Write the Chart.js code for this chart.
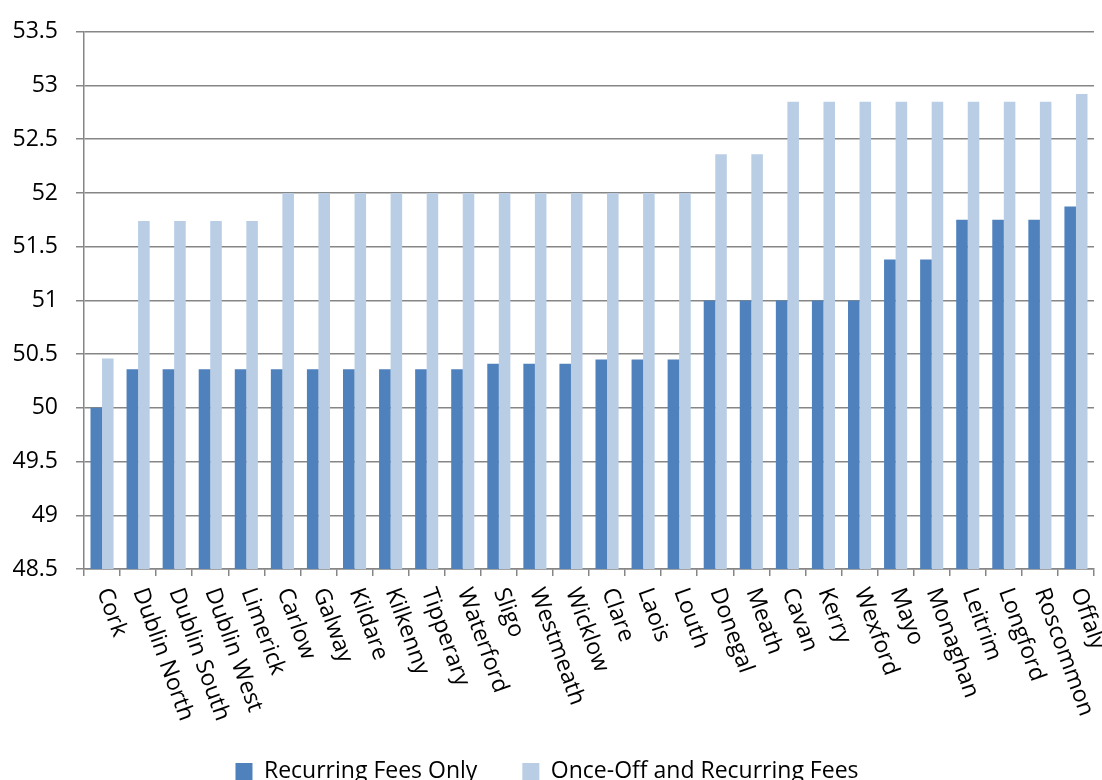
<!DOCTYPE html>
<html>
<head>
<meta charset="utf-8">
<script src="https://cdn.jsdelivr.net/npm/chart.js@4"></script>
<style>
  html, body { margin: 0; padding: 0; background: #fff; overflow: hidden; }
  #wrap { width: 1102px; height: 793px; position: relative; }
</style>
</head>
<body>
<div id="wrap"><canvas id="feeChart"></canvas></div>
<script>
var counties = ['Cork', 'Dublin North', 'Dublin South', 'Dublin West', 'Limerick', 'Carlow',
    'Galway', 'Kildare', 'Kilkenny', 'Tipperary', 'Waterford', 'Sligo', 'Westmeath', 'Wicklow',
    'Clare', 'Laois', 'Louth', 'Donegal', 'Meath', 'Cavan', 'Kerry', 'Wexford', 'Mayo',
    'Monaghan', 'Leitrim', 'Longford', 'Roscommon', 'Offaly'];

var recurringOnly = [50.0, 50.36, 50.36, 50.36, 50.36, 50.36, 50.36, 50.36, 50.36, 50.36,
    50.36, 50.41, 50.41, 50.41, 50.45, 50.45, 50.45, 51.0, 51.0, 51.0, 51.0, 51.0, 51.38,
    51.38, 51.75, 51.75, 51.75, 51.875];

var onceOffAndRecurring = [50.46, 51.74, 51.74, 51.74, 51.74, 52.0, 52.0, 52.0, 52.0, 52.0,
    52.0, 52.0, 52.0, 52.0, 52.0, 52.0, 52.0, 52.36, 52.36, 52.85, 52.85, 52.85, 52.85,
    52.85, 52.85, 52.85, 52.85, 52.92];

var yMin = 48.5, yMax = 53.5, yStep = 0.5;

var fontName = '"Open Sans", "Noto Sans", sans-serif';
var fontSize = 23;
var gridColor = '#868686';

// x labels are drawn slanting down to the right, like the original
var slantLabels = {
    id: 'slantLabels',
    afterDraw: function(chart) {
        var xs = chart.scales.x;
        var ctx = chart.ctx;
        ctx.save();
        ctx.font = fontSize + 'px ' + fontName;
        ctx.fillStyle = '#000';
        ctx.textAlign = 'left';
        ctx.textBaseline = 'middle';
        for (var i = 0; i < counties.length; i++) {
            var px = xs.getPixelForValue(i);
            ctx.save();
            ctx.translate(px + 1, xs.top + 20);
            ctx.rotate(70 * Math.PI / 180);
            ctx.fillText(counties[i], 0, 0);
            ctx.restore();
        }
        ctx.restore();
    }
};

var ctx = document.getElementById('feeChart').getContext('2d');
var feeChart = new Chart(ctx, {
    type: 'bar',
    data: {
        labels: counties,
        datasets: [{
            label: 'Recurring Fees Only',
            data: recurringOnly,
            backgroundColor: '#4F81BD',
            borderWidth: 0
        }, {
            label: 'Once-Off and Recurring Fees',
            data: onceOffAndRecurring,
            backgroundColor: '#B9CDE5',
            borderWidth: 0
        }]
    },
    plugins: [slantLabels],
    options: {
        responsive: true,
        maintainAspectRatio: false,
        animation: false,
        datasets: {
            bar: { barPercentage: 1.0, categoryPercentage: 0.64 }
        },
        layout: {
            padding: { top: 24, right: 8, left: 0, bottom: 0 }
        },
        plugins: {
            tooltip: { enabled: false },
            legend: {
                position: 'bottom',
                labels: {
                    boxWidth: 17,
                    boxHeight: 17,
                    padding: 45,
                    color: '#000',
                    font: { family: fontName, size: fontSize }
                }
            }
        },
        scales: {
            x: {
                grid: {
                    offset: true,
                    drawOnChartArea: false,
                    drawTicks: true,
                    tickLength: 7,
                    color: gridColor,
                    lineWidth: 1.5
                },
                border: { color: gridColor, width: 1.5 },
                ticks: { display: false },
                afterFit: function(scale) { scale.height = 146; }
            },
            y: {
                min: yMin,
                max: yMax,
                grid: {
                    color: gridColor,
                    lineWidth: 1.5,
                    tickLength: 8
                },
                border: { color: gridColor, width: 1.5 },
                ticks: {
                    stepSize: yStep,
                    padding: 18,
                    color: '#000',
                    font: { family: fontName, size: fontSize },
                    callback: function(value) { return String(value); }
                },
                afterFit: function(scale) { scale.width = 84; }
            }
        }
    }
});
</script>
</body>
</html>
